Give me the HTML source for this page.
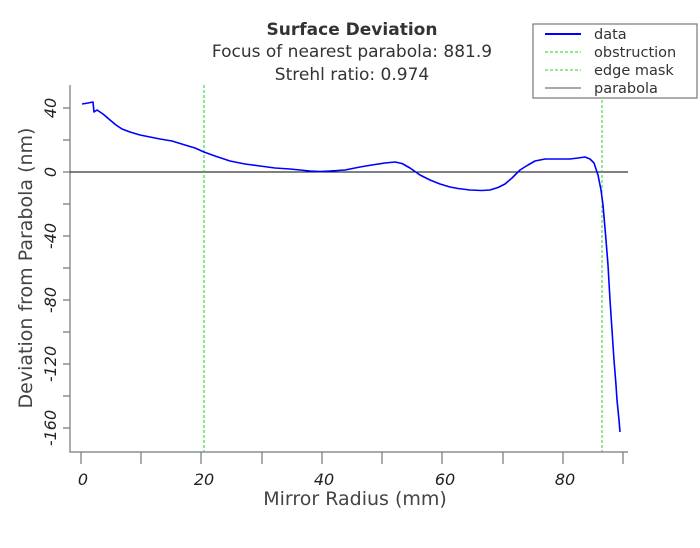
<!DOCTYPE html>
<html><head><style>
body{margin:0;background:#fff;}
svg{display:block;font-family:"DejaVu Sans","Liberation Sans",sans-serif;}
</style></head><body>
<svg width="700" height="548" xmlns="http://www.w3.org/2000/svg">
<rect width="700" height="548" fill="#fff"/>
<g fill="#333" text-anchor="middle">
<text x="352" y="35" font-size="17" font-weight="bold">Surface Deviation</text>
<text x="352" y="57" font-size="17">Focus of nearest parabola: 881.9</text>
<text x="352" y="80" font-size="17">Strehl ratio: 0.974</text>
</g>
<g stroke="#777" stroke-width="1.2" fill="none">
<path d="M70,85 V452 H628"/>
<path d="M63,108H70M63,140H70M63,172H70M63,204H70M63,236H70M63,268H70M63,300H70M63,332H70M63,364H70M63,396H70M63,428H70"/>
<path d="M81,452V464M141,452V464M201,452V464M262,452V464M322,452V464M382,452V464M442,452V464M503,452V464M563,452V464M623,452V464"/>
</g>
<g fill="#222" font-size="16" font-style="italic" text-anchor="middle">
<text transform="translate(56,108) rotate(-90)">40</text>
<text transform="translate(56,172) rotate(-90)">0</text>
<text transform="translate(56,236) rotate(-90)">-40</text>
<text transform="translate(56,300) rotate(-90)">-80</text>
<text transform="translate(56,364) rotate(-90)">-120</text>
<text transform="translate(56,428) rotate(-90)">-160</text>
<text x="83" y="485">0</text>
<text x="204" y="485">20</text>
<text x="324" y="485">40</text>
<text x="445" y="485">60</text>
<text x="565" y="485">80</text>
</g>
<text x="355" y="505" font-size="19" fill="#444" text-anchor="middle">Mirror Radius (mm)</text>
<text transform="translate(32,268) rotate(-90)" font-size="19" fill="#444" text-anchor="middle">Deviation from Parabola (nm)</text>
<line x1="70" y1="172" x2="628" y2="172" stroke="#000" stroke-width="1"/>
<line x1="204" y1="85" x2="204" y2="452" stroke="#1d1" stroke-dasharray="3,2"/>
<line x1="602" y1="85" x2="602" y2="452" stroke="#3c3" stroke-dasharray="3,2"/>
<polyline fill="none" stroke="#00f" stroke-width="1.6" stroke-linejoin="round" points="82,104 88,103 93,102 94,112 97,110 103,114 110,120 116,125 122,129 130,132 140,135 150,137 160,139 172,141 185,145 195,148 204,152 215,156 230,161 245,164 260,166 275,168 290,169 300,170 310,171 320,171.5 330,171 345,170 360,167 372,165 385,163 395,162 402,163.5 410,168 420,175 430,180 440,184 450,187 458,188.5 470,190 482,190.5 490,190 498,187.5 505,184 512,178 520,170 528,165 535,161 545,159 560,159 570,159 578,158 585,157 590,159 594,163 598,175 601,190 603,205 606,240 608,265 610,300 612,330 614,360 616,385 617,400 618,410 619,420 620,432"/>
<rect x="533" y="24" width="164" height="74" fill="#fff" stroke="#777" stroke-width="1.2"/>
<line x1="545" y1="34" x2="581" y2="34" stroke="#00f" stroke-width="2"/>
<line x1="545" y1="52" x2="581" y2="52" stroke="#1d1" stroke-dasharray="3,2"/>
<line x1="545" y1="70" x2="581" y2="70" stroke="#3c3" stroke-dasharray="3,2"/>
<line x1="545" y1="88" x2="581" y2="88" stroke="#777" stroke-width="1.2"/>
<g font-size="14.5" fill="#333">
<text x="594" y="39">data</text>
<text x="594" y="57">obstruction</text>
<text x="594" y="75">edge mask</text>
<text x="594" y="93">parabola</text>
</g>
</svg>
</body></html>
